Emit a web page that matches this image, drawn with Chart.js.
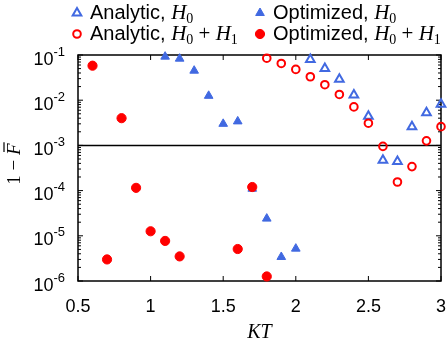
<!DOCTYPE html>
<html>
<head>
<meta charset="utf-8">
<script src="https://cdn.jsdelivr.net/npm/chart.js@4/dist/chart.umd.min.js"></script>
<style>
  html, body { margin: 0; padding: 0; background: #fff; }
  #wrap { position: relative; width: 448px; height: 341px; }
</style>
</head>
<body>
<div id="wrap"><canvas id="chart" width="448" height="341"></canvas></div>
<script>
'use strict';

// values
var ktAnalyticH0 = [2.1, 2.2, 2.3, 2.4, 2.5, 2.6, 2.7, 2.8, 2.9, 3.0];
var errAnalyticH0 = [0.08, 0.05, 0.029, 0.013, 0.0044, 4.7e-4, 4.4e-4, 2.6e-3, 5.3e-3, 8.1e-3];

var ktAnalyticH0H1 = [1.8, 1.9, 2.0, 2.1, 2.2, 2.3, 2.4, 2.5, 2.6, 2.7, 2.8, 2.9, 3.0];
var errAnalyticH0H1 = [0.085, 0.065, 0.048, 0.033, 0.022, 0.0134, 0.0071, 0.0031, 9.5e-4, 1.55e-4, 3.4e-4, 1.26e-3, 2.6e-3];

var ktOptimizedH0 = [1.1, 1.2, 1.3, 1.4, 1.5, 1.6, 1.7, 1.8, 1.9, 2.0];
var errOptimizedH0 = [0.092, 0.083, 0.045, 0.0125, 0.003, 0.0034, 1.1e-4, 2.4e-5, 3.4e-6, 5.2e-6];

var ktOptimizedH0H1 = [0.6, 0.7, 0.8, 0.9, 1.0, 1.1, 1.2, 1.6, 1.7, 1.8];
var errOptimizedH0H1 = [0.058, 3.0e-6, 0.004, 1.15e-4, 1.26e-5, 7.7e-6, 3.5e-6, 5.1e-6, 1.2e-4, 1.26e-6];

var thresholdValue = 1e-3;

var xTicks = [0.5, 1, 1.5, 2, 2.5, 3];
var xTickLabels = ['0.5', '1', '1.5', '2', '2.5', '3'];
var yTickExponents = [-1, -2, -3, -4, -5, -6];

var blue = '#4169e1';
var red = '#ff0000';

function toPoints(xs, ys) {
  var out = [];
  for (var i = 0; i < xs.length; i++) {
    out.push({ x: xs[i], y: ys[i] });
  }
  return out;
}

var legendItems = [
  { x: 77, y: 13, style: 'triangle', fill: false, color: blue,
    parts: [['Analytic, ', 'sans'], ['H', 'it'], ['0', 'sub']] },
  { x: 260, y: 13, style: 'triangle', fill: true, color: blue,
    parts: [['Optimized, ', 'sans'], ['H', 'it'], ['0', 'sub']] },
  { x: 77, y: 34, style: 'circle', fill: false, color: red,
    parts: [['Analytic, ', 'sans'], ['H', 'it'], ['0', 'sub'], [' + ', 'rm'], ['H', 'it'], ['1', 'sub']] },
  { x: 260, y: 34, style: 'circle', fill: true, color: red,
    parts: [['Optimized, ', 'sans'], ['H', 'it'], ['0', 'sub'], [' + ', 'rm'], ['H', 'it'], ['1', 'sub']] }
];

var fonts = {
  sans: { f: '20px "Liberation Sans", Arial, sans-serif', dy: 0 },
  it: { f: 'italic 21px "Liberation Serif", serif', dy: 0 },
  rm: { f: '21px "Liberation Serif", serif', dy: 0 },
  sub: { f: '14px "Liberation Serif", serif', dy: 4 }
};

function drawMarker(ctx, style, fill, color, x, y) {
  ctx.save();
  ctx.beginPath();
  if (style === 'triangle') {
    var r = 5;
    for (var k = 0; k < 3; k++) {
      var ang = k * 2 * Math.PI / 3;
      var px = x + Math.sin(ang) * r;
      var py = y - Math.cos(ang) * r;
      if (k === 0) ctx.moveTo(px, py); else ctx.lineTo(px, py);
    }
    ctx.closePath();
  } else {
    ctx.arc(x, y, fill ? 4.6 : 3.8, 0, Math.PI * 2);
  }
  if (fill) {
    ctx.fillStyle = color;
    ctx.fill();
    ctx.lineWidth = 1;
  } else {
    ctx.lineWidth = 2;
  }
  ctx.strokeStyle = color;
  ctx.stroke();
  ctx.restore();
}

function drawParts(ctx, parts, x, y) {
  for (var i = 0; i < parts.length; i++) {
    var f = fonts[parts[i][1]];
    ctx.font = f.f;
    ctx.fillText(parts[i][0], x, y + f.dy);
    x += ctx.measureText(parts[i][0]).width;
  }
}

var framePlugin = {
  id: 'frame',
  beforeDatasetsDraw: function(chart) {
    var ctx = chart.ctx;
    var a = chart.chartArea;
    var xs = chart.scales.x;
    var ys = chart.scales.y;
    ctx.save();
    ctx.strokeStyle = '#000';
    ctx.lineWidth = 1;
    ctx.beginPath();
    // x ticks, bottom and top, pointing in
    xTicks.forEach(function(v) {
      var px = xs.getPixelForValue(v);
      ctx.moveTo(px, a.bottom); ctx.lineTo(px, a.bottom - 5);
      ctx.moveTo(px, a.top); ctx.lineTo(px, a.top + 5);
    });
    // y ticks, major and minor, left and right
    for (var e = -6; e <= -1; e++) {
      for (var m = 1; m <= 9; m++) {
        if (e === -1 && m > 1) break;
        var py = ys.getPixelForValue(m * Math.pow(10, e));
        var len = m === 1 ? 5 : 3;
        ctx.moveTo(a.left, py); ctx.lineTo(a.left + len, py);
        ctx.moveTo(a.right, py); ctx.lineTo(a.right - len, py);
      }
    }
    ctx.stroke();
    ctx.lineWidth = 1.5;
    ctx.strokeRect(a.left, a.top, a.right - a.left, a.bottom - a.top);

    ctx.fillStyle = '#000';
    // x tick labels
    ctx.font = '18px "Liberation Sans", Arial, sans-serif';
    ctx.textAlign = 'center';
    ctx.textBaseline = 'alphabetic';
    xTicks.forEach(function(v, i) {
      ctx.fillText(xTickLabels[i], xs.getPixelForValue(v), 312);
    });
    // y tick labels, 10 with a raised exponent
    ctx.textAlign = 'left';
    yTickExponents.forEach(function(e) {
      var py = ys.getPixelForValue(Math.pow(10, e));
      var base = '10';
      var sup = '-' + Math.abs(e);
      ctx.font = '18px "Liberation Sans", Arial, sans-serif';
      var wb = ctx.measureText(base).width;
      ctx.font = '13px "Liberation Sans", Arial, sans-serif';
      var ws = ctx.measureText(sup).width;
      var x0 = 65 - wb - ws;
      ctx.font = '18px "Liberation Sans", Arial, sans-serif';
      ctx.fillText(base, x0, py + 9.5);
      ctx.font = '13px "Liberation Sans", Arial, sans-serif';
      ctx.fillText(sup, x0 + wb, py + 0.5);
    });
    // x title
    ctx.textAlign = 'center';
    ctx.font = 'italic 20px "Liberation Serif", serif';
    ctx.fillText('KT', (a.left + a.right) / 2, 338);
    // y title: 1 - F with a bar
    ctx.translate(20, 164);
    ctx.rotate(-Math.PI / 2);
    ctx.textAlign = 'left';
    ctx.font = '19px "Liberation Serif", serif';
    var w1 = ctx.measureText('1 \u2212 ').width;
    ctx.font = 'italic 19px "Liberation Serif", serif';
    var wF = ctx.measureText('F').width;
    var sx = -(w1 + wF) / 2;
    ctx.font = '19px "Liberation Serif", serif';
    ctx.fillText('1 \u2212 ', sx, 0);
    ctx.font = 'italic 19px "Liberation Serif", serif';
    ctx.fillText('F', sx + w1, 0);
    ctx.lineWidth = 1.2;
    ctx.beginPath();
    ctx.moveTo(sx + w1 + 3, -16);
    ctx.lineTo(sx + w1 + wF + 1, -16);
    ctx.stroke();
    ctx.restore();
  },
  afterDraw: function(chart) {
    var ctx = chart.ctx;
    ctx.save();
    ctx.fillStyle = '#000';
    ctx.textAlign = 'left';
    ctx.textBaseline = 'alphabetic';
    legendItems.forEach(function(it) {
      drawMarker(ctx, it.style, it.fill, it.color, it.x, it.y);
      drawParts(ctx, it.parts, it.x + 13, it.y + 5.5);
    });
    ctx.restore();
  }
};

var ctx = document.getElementById('chart').getContext('2d');
var chart = new Chart(ctx, {
  type: 'scatter',
  data: {
    datasets: [
      {
        label: 'Optimized, H0 + H1',
        data: toPoints(ktOptimizedH0H1, errOptimizedH0H1),
        pointStyle: 'circle',
        pointRadius: 4.6,
        pointBackgroundColor: red,
        pointBorderColor: red,
        pointBorderWidth: 1,
        clip: false,
        order: 0
      },
      {
        label: 'Optimized, H0',
        data: toPoints(ktOptimizedH0, errOptimizedH0),
        pointStyle: 'triangle',
        pointRadius: 5,
        pointBackgroundColor: blue,
        pointBorderColor: blue,
        pointBorderWidth: 1,
        clip: false,
        order: 1
      },
      {
        label: 'Analytic, H0 + H1',
        data: toPoints(ktAnalyticH0H1, errAnalyticH0H1),
        pointStyle: 'circle',
        pointRadius: 3.8,
        pointBackgroundColor: 'rgba(0,0,0,0)',
        pointBorderColor: red,
        pointBorderWidth: 2,
        clip: false,
        order: 2
      },
      {
        label: 'Analytic, H0',
        data: toPoints(ktAnalyticH0, errAnalyticH0),
        pointStyle: 'triangle',
        pointRadius: 5,
        pointBackgroundColor: 'rgba(0,0,0,0)',
        pointBorderColor: blue,
        pointBorderWidth: 2,
        clip: false,
        order: 3
      },
      {
        type: 'line',
        label: 'threshold',
        data: [{ x: 0.5, y: thresholdValue }, { x: 3, y: thresholdValue }],
        borderColor: '#000',
        borderWidth: 1.5,
        pointRadius: 0,
        order: 4
      }
    ]
  },
  options: {
    responsive: false,
    animation: false,
    events: [],
    layout: { padding: { left: 78, right: 7, top: 55, bottom: 60 } },
    plugins: { legend: { display: false }, tooltip: { enabled: false } },
    scales: {
      x: { type: 'linear', min: 0.5, max: 3, display: false },
      y: { type: 'logarithmic', min: 1e-6, max: 1e-1, display: false }
    }
  },
  plugins: [framePlugin]
});
</script>
</body>
</html>
